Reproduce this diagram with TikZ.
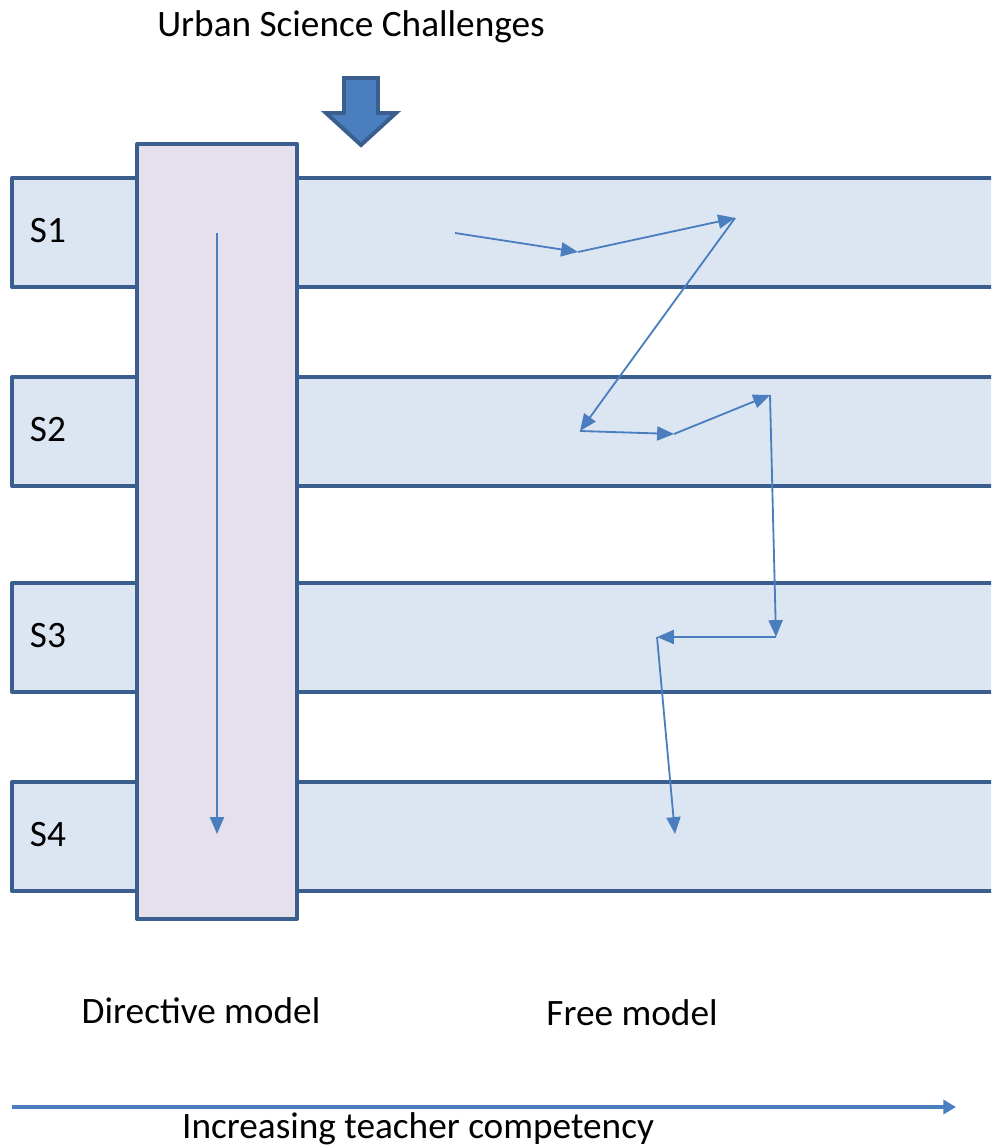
\documentclass[tikz,border=0pt]{standalone}
\usepackage{fontspec}
\setmainfont{Carlito}
\usetikzlibrary{arrows.meta}
\usetikzlibrary{calc}
\definecolor{edgeblue}{HTML}{3A5F8F}
\definecolor{bandfill}{HTML}{DCE6F2}
\definecolor{colfill}{HTML}{E5E0EC}
\definecolor{flowblue}{HTML}{4A7EBF}
\tikzstyle{band} = [draw=edgeblue,fill=bandfill,line width=2.8pt,line join=round]
\tikzstyle{column} = [draw=edgeblue,fill=colfill,line width=2.8pt,line join=round]
\tikzstyle{flow} = [draw=flowblue,line width=1.3pt,-{Triangle[length=12pt,width=10pt]}]
\tikzstyle{lbl} = [font=\fontsize{26.5}{30}\selectfont,inner sep=0pt]

\begin{document}
\begin{tikzpicture}[x=0.025cm,y=-0.025cm]
\useasboundingbox (0,0) rectangle (991,1148);
\clip (0,0) rectangle (991,1148);

\node[lbl] (usc) at (351,27) {Urban Science Challenges};

% the big down arrow
\draw[draw=edgeblue,fill=flowblue,line width=2.8pt,line join=miter]
	(344,78) -- (378,78) -- (378,113) -- (396,113) -- (361,145)
	-- (326,113) -- (344,113) -- cycle;

% sessions
\foreach \y/\s in {178/S1,377/S2,583/S3,782/S4}{
	\draw[band] (12,\y) rectangle (1010,\y+109);
	\node[lbl] (\s) at (48,\y+53) {\s};
}

% directive model
\draw[column] (137,144) rectangle (297,919);
\coordinate (d0) at (217,233);
\coordinate (d1) at (217,834);
\draw[flow] (d0) -- (d1);

% free model path
\coordinate (p0) at (455,233);
\coordinate (p1) at (578,252);
\coordinate (p2) at (735,218);
\coordinate (p3) at (580,431);
\coordinate (p4) at (674,434);
\coordinate (p5) at (770,395);
\coordinate (p6) at (776,637);
\coordinate (p7) at (657,637);
\coordinate (p8) at (675,834);
\foreach \i/\j in {0/1,1/2,2/3,3/4,4/5,5/6,6/7,7/8}{
	\draw[flow] (p\i) -- (p\j);
}

\node[lbl] (dm) at (201,1011) {Directive model};
\node[lbl] (fm) at (632,1013) {Free model};

% competency axis
\coordinate (c0) at (12,1107);
\coordinate (c1) at (956,1107);
\draw[draw=flowblue,line width=3.4pt,-{Triangle[length=9pt,width=10pt]}] (c0) -- (c1);
\node[lbl] (itc) at (418,1129) {Increasing teacher competency};
\end{tikzpicture}
\end{document}
